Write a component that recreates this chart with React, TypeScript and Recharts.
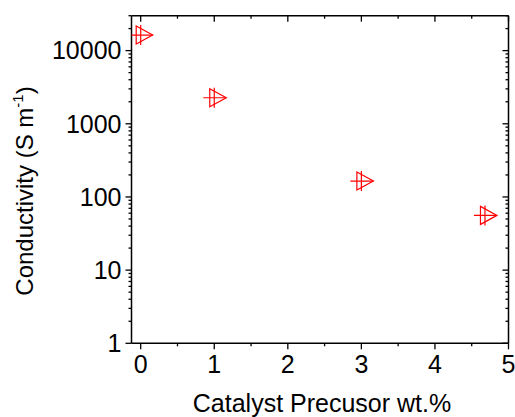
import React from 'react';
import { Scatter, ScatterChart, XAxis, YAxis } from 'recharts';

const precursor = [0, 1, 3, 4.68];
const conductivity = [16300, 2270, 165, 56];

const xTicks = [0, 0.5, 1, 1.5, 2, 2.5, 3, 3.5, 4, 4.5, 5];
const yTicks = [
  1, 2, 3, 4, 5, 6, 7, 8, 9,
  10, 20, 30, 40, 50, 60, 70, 80, 90,
  100, 200, 300, 400, 500, 600, 700, 800, 900,
  1000, 2000, 3000, 4000, 5000, 6000, 7000, 8000, 9000,
  10000, 20000, 30000,
];
const yLabels = [1, 10, 100, 1000, 10000];

const data = precursor.map((x, i) => ({ x, y: conductivity[i] }));

const FONT = '"Liberation Sans", Arial, sans-serif';
const RED = '#ff0000';

const isMajorX = (v: number) => Number.isInteger(v);
const isMajorY = (v: number) => yLabels.includes(v);

const BottomTick = ({ x, y, payload }: any) => {
  const major = isMajorX(payload.value);
  return (
    <g>
      <line x1={x} x2={x} y1={y} y2={y + (major ? 6 : 3)} stroke="#000" strokeWidth={1.3} />
      {major && (
        <text x={x} y={y + 30} textAnchor="middle" fontSize={25} fontFamily={FONT} fill="#000">
          {payload.value}
        </text>
      )}
    </g>
  );
};

const TopTick = ({ x, y, payload }: any) => {
  const major = isMajorX(payload.value);
  return <line x1={x} x2={x} y1={y} y2={y + (major ? 6 : 3)} stroke="#000" strokeWidth={1.3} />;
};

const LeftTick = ({ x, y, payload }: any) => {
  const major = isMajorY(payload.value);
  return (
    <g>
      <line x1={x} x2={x - (major ? 6 : 3)} y1={y} y2={y} stroke="#000" strokeWidth={1.3} />
      {major && (
        <text x={x - 10} y={y + 8.8} textAnchor="end" fontSize={25} fontFamily={FONT} fill="#000">
          {payload.value}
        </text>
      )}
    </g>
  );
};

const RightTick = ({ x, y, payload }: any) => {
  const major = isMajorY(payload.value);
  return <line x1={x} x2={x - (major ? 6 : 3)} y1={y} y2={y} stroke="#000" strokeWidth={1.3} />;
};

const TriangleCross = ({ cx, cy }: any) => (
  <g stroke={RED} strokeWidth={1.2} fill="none">
    <polygon points={`${cx - 4.5},${cy - 9} ${cx - 4.5},${cy + 9} ${cx + 12},${cy}`} />
    <line x1={cx} x2={cx} y1={cy - 10} y2={cy + 10} />
    <line x1={cx - 11} x2={cx + 12} y1={cy} y2={cy} />
  </g>
);

const Empty = () => <g />;

export default function App() {
  return (
    <div style={{ position: 'absolute', left: 0, top: 0, background: '#fff' }}>
      <ScatterChart width={515} height={417} margin={{ top: 0, right: 0, bottom: 0, left: 0 }}>
        <XAxis
          xAxisId="bottom"
          dataKey="x"
          type="number"
          domain={[-0.125, 5]}
          ticks={xTicks}
          allowDataOverflow
          height={73.7}
          tickSize={0}
          tickMargin={0}
          tickLine={false}
          tick={<BottomTick />}
          axisLine={{ stroke: '#000', strokeWidth: 1.5 }}
          interval={0}
        />
        <XAxis
          xAxisId="top"
          orientation="top"
          dataKey="x"
          type="number"
          domain={[-0.125, 5]}
          ticks={xTicks}
          allowDataOverflow
          height={15.7}
          tickSize={0}
          tickMargin={0}
          tickLine={false}
          tick={<TopTick />}
          axisLine={{ stroke: '#000', strokeWidth: 1.5 }}
          interval={0}
        />
        <YAxis
          yAxisId="left"
          dataKey="y"
          type="number"
          scale="log"
          domain={[1, 30000]}
          ticks={yTicks}
          allowDataOverflow
          width={131.5}
          tickSize={0}
          tickMargin={0}
          tickLine={false}
          tick={<LeftTick />}
          axisLine={{ stroke: '#000', strokeWidth: 1.5 }}
          interval={0}
        />
        <YAxis
          yAxisId="right"
          orientation="right"
          dataKey="y"
          type="number"
          scale="log"
          domain={[1, 30000]}
          ticks={yTicks}
          allowDataOverflow
          width={6.5}
          tickSize={0}
          tickMargin={0}
          tickLine={false}
          tick={<RightTick />}
          axisLine={{ stroke: '#000', strokeWidth: 1.5 }}
          interval={0}
        />
        <Scatter
          data={data}
          xAxisId="top"
          yAxisId="right"
          shape={<Empty />}
          isAnimationActive={false}
        />
        <Scatter
          data={data}
          xAxisId="bottom"
          yAxisId="left"
          shape={<TriangleCross />}
          isAnimationActive={false}
        />
        <text x={322} y={412} textAnchor="middle" fontSize={25} fontFamily={FONT} fill="#000">
          Catalyst Precusor wt.%
        </text>
        <text
          x={33}
          y={191}
          textAnchor="middle"
          fontSize={24}
          fontFamily={FONT}
          fill="#000"
          transform="rotate(-90, 33, 191)"
        >
          Conductivity (S m
          <tspan fontSize={15} dy={-10}>-1</tspan>
          <tspan dy={10}>)</tspan>
        </text>
      </ScatterChart>
    </div>
  );
}
